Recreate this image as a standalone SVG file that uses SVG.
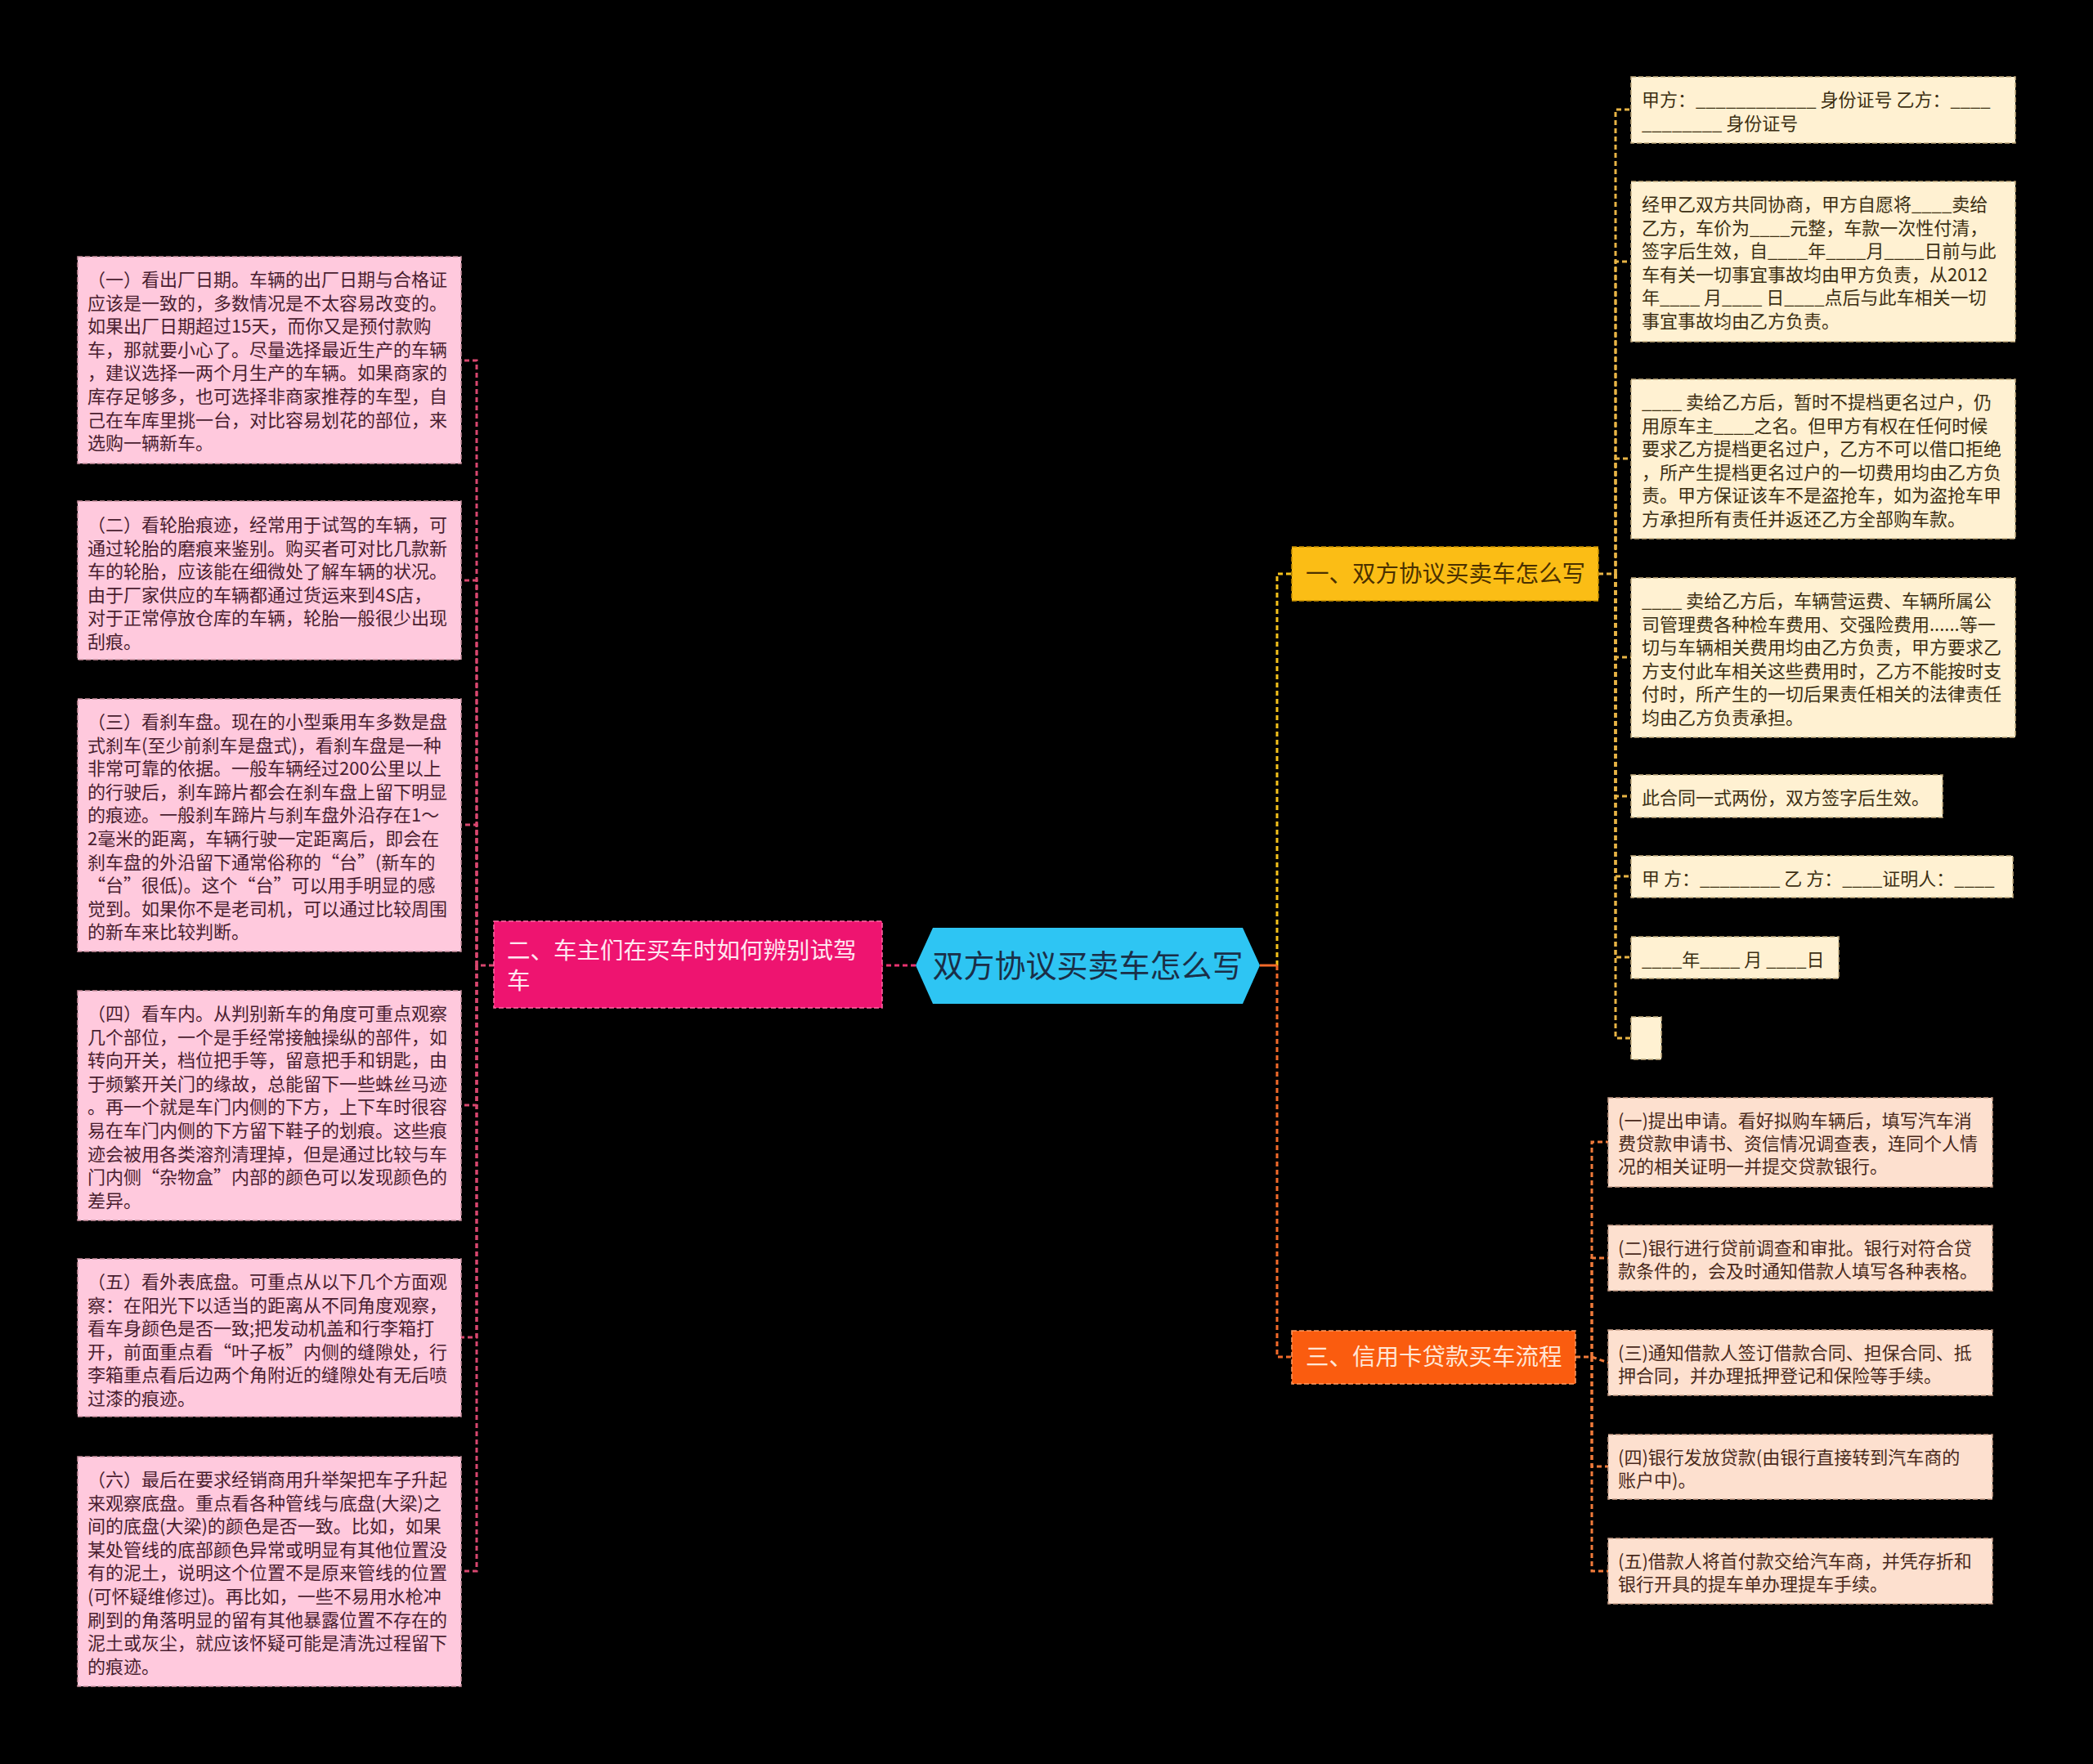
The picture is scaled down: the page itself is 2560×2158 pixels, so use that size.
<svg xmlns="http://www.w3.org/2000/svg" width="2560" height="2158" viewBox="0 0 2560 2158">
<style>
text{font-family:"Noto Sans CJK SC","Noto Sans",sans-serif;}
.t22{font-size:22px;}
.pk{fill:#ffc9dd;stroke:#c9909f;stroke-width:1.5;stroke-dasharray:6 3;}
.pkt{fill:#4a1e30;}
.cr{fill:#fff1d2;stroke:#c4ad80;stroke-width:1.5;stroke-dasharray:6 3;}
.crt{fill:#3c2f12;}
.pc{fill:#fde0cf;stroke:#c9a08a;stroke-width:1.5;stroke-dasharray:6 3;}
.pct{fill:#4a2a1c;}
.ln{fill:none;stroke-width:3;stroke-dasharray:6 4;}
</style>
<rect x="0" y="0" width="2560" height="2158" fill="#000000"/>
<g id="connectors">
  <path class="ln" stroke="#e8336f" d="M1120,1181 L1079,1181"/>
  <path class="ln" stroke="#d8476f" d="M604,1181 L583,1181 L583,441 L564,441"/>
  <path class="ln" stroke="#d8476f" d="M583,1181 L583,710 L564,710"/>
  <path class="ln" stroke="#d8476f" d="M583,1181 L583,1009 L564,1009"/>
  <path class="ln" stroke="#d8476f" d="M583,1181 L583,1352 L564,1352"/>
  <path class="ln" stroke="#d8476f" d="M583,1181 L583,1636 L564,1636"/>
  <path class="ln" stroke="#d8476f" d="M583,1181 L583,1922 L564,1922"/>
  <path class="ln" stroke="#f5c21b" d="M1562,1181 L1562,702 L1580,702"/>
  <path class="ln" stroke="#f26a2a" d="M1562,1181 L1562,1660 L1580,1660"/>
  <path fill="none" stroke="#f26a2a" stroke-width="3" d="M1541,1181 L1562,1181"/>
  <path class="ln" stroke="#e8b445" d="M1955,702 L1976,702 L1976,134 L1995,134"/>
  <path class="ln" stroke="#e8b445" d="M1976,702 L1976,320 L1995,320"/>
  <path class="ln" stroke="#e8b445" d="M1976,702 L1976,561 L1995,561"/>
  <path class="ln" stroke="#e8b445" d="M1976,702 L1976,804 L1995,804"/>
  <path class="ln" stroke="#e8b445" d="M1976,702 L1976,974 L1995,974"/>
  <path class="ln" stroke="#e8b445" d="M1976,702 L1976,1072 L1995,1072"/>
  <path class="ln" stroke="#e8b445" d="M1976,702 L1976,1171 L1995,1171"/>
  <path class="ln" stroke="#e8b445" d="M1976,702 L1976,1270 L1995,1270"/>
  <path class="ln" stroke="#f07a3a" d="M1927,1660 L1947,1660 L1947,1397 L1967,1397"/>
  <path class="ln" stroke="#f07a3a" d="M1947,1660 L1947,1539 L1967,1539"/>
  <path class="ln" stroke="#f07a3a" d="M1947,1660 L1967,1667"/>
  <path class="ln" stroke="#f07a3a" d="M1947,1660 L1947,1794 L1967,1794"/>
  <path class="ln" stroke="#f07a3a" d="M1947,1660 L1947,1922 L1967,1922"/>
</g>
<g id="root">
  <polygon points="1120,1181 1141,1135 1520,1135 1541,1181 1520,1228 1141,1228" fill="#2ec5f3"/>
  <text x="1330.5" y="1195" font-size="38" text-anchor="middle" fill="#1a2f48">双方协议买卖车怎么写</text>
</g>
<g id="branch-2">
  <rect x="604" y="1127" width="475" height="106" fill="#ee1470" stroke="#ff6aa5" stroke-width="1.5" stroke-dasharray="6 3"/>
  <text font-size="28.5" fill="#ffe6f0"><tspan x="620" y="1173">二、车主们在买车时如何辨别试驾</tspan><tspan x="620" y="1210">车</tspan></text>
</g>
<g id="branch-1">
  <rect x="1580" y="669" width="375" height="66" fill="#fbbd15" stroke="#c89000" stroke-width="1.5" stroke-dasharray="6 3"/>
  <text x="1597" y="712" font-size="28.5" fill="#4a3000">一、双方协议买卖车怎么写</text>
</g>
<g id="branch-3">
  <rect x="1580" y="1628" width="347" height="65" fill="#fa5c0f" stroke="#ff9a60" stroke-width="1.5" stroke-dasharray="6 3"/>
  <text x="1597" y="1670" font-size="28.5" fill="#ffe6d6">三、信用卡贷款买车流程</text>
</g>
<g id="left-1">
  <rect class="pk" x="95" y="314" width="469" height="253"/>
  <text class="t22 pkt"><tspan x="107" y="350">（一）看出厂日期。车辆的出厂日期与合格证</tspan><tspan x="107" dy="28.6">应该是一致的，多数情况是不太容易改变的。</tspan><tspan x="107" dy="28.6">如果出厂日期超过15天，而你又是预付款购</tspan><tspan x="107" dy="28.6">车，那就要小心了。尽量选择最近生产的车辆</tspan><tspan x="107" dy="28.6">，建议选择一两个月生产的车辆。如果商家的</tspan><tspan x="107" dy="28.6">库存足够多，也可选择非商家推荐的车型，自</tspan><tspan x="107" dy="28.6">己在车库里挑一台，对比容易划花的部位，来</tspan><tspan x="107" dy="28.6">选购一辆新车。</tspan></text>
</g>
<g id="left-2">
  <rect class="pk" x="95" y="613" width="469" height="194"/>
  <text class="t22 pkt"><tspan x="107" y="650">（二）看轮胎痕迹，经常用于试驾的车辆，可</tspan><tspan x="107" dy="28.6">通过轮胎的磨痕来鉴别。购买者可对比几款新</tspan><tspan x="107" dy="28.6">车的轮胎，应该能在细微处了解车辆的状况。</tspan><tspan x="107" dy="28.6">由于厂家供应的车辆都通过货运来到4S店，</tspan><tspan x="107" dy="28.6">对于正常停放仓库的车辆，轮胎一般很少出现</tspan><tspan x="107" dy="28.6">刮痕。</tspan></text>
</g>
<g id="left-3">
  <rect class="pk" x="95" y="855" width="469" height="309"/>
  <text class="t22 pkt"><tspan x="107" y="891">（三）看刹车盘。现在的小型乘用车多数是盘</tspan><tspan x="107" dy="28.6">式刹车(至少前刹车是盘式)，看刹车盘是一种</tspan><tspan x="107" dy="28.6">非常可靠的依据。一般车辆经过200公里以上</tspan><tspan x="107" dy="28.6">的行驶后，刹车蹄片都会在刹车盘上留下明显</tspan><tspan x="107" dy="28.6">的痕迹。一般刹车蹄片与刹车盘外沿存在1～</tspan><tspan x="107" dy="28.6">2毫米的距离，车辆行驶一定距离后，即会在</tspan><tspan x="107" dy="28.6">刹车盘的外沿留下通常俗称的“台”(新车的</tspan><tspan x="107" dy="28.6">“台”很低)。这个“台”可以用手明显的感</tspan><tspan x="107" dy="28.6">觉到。如果你不是老司机，可以通过比较周围</tspan><tspan x="107" dy="28.6">的新车来比较判断。</tspan></text>
</g>
<g id="left-4">
  <rect class="pk" x="95" y="1212" width="469" height="281"/>
  <text class="t22 pkt"><tspan x="107" y="1248">（四）看车内。从判别新车的角度可重点观察</tspan><tspan x="107" dy="28.6">几个部位，一个是手经常接触操纵的部件，如</tspan><tspan x="107" dy="28.6">转向开关，档位把手等，留意把手和钥匙，由</tspan><tspan x="107" dy="28.6">于频繁开关门的缘故，总能留下一些蛛丝马迹</tspan><tspan x="107" dy="28.6">。再一个就是车门内侧的下方，上下车时很容</tspan><tspan x="107" dy="28.6">易在车门内侧的下方留下鞋子的划痕。这些痕</tspan><tspan x="107" dy="28.6">迹会被用各类溶剂清理掉，但是通过比较与车</tspan><tspan x="107" dy="28.6">门内侧“杂物盒”内部的颜色可以发现颜色的</tspan><tspan x="107" dy="28.6">差异。</tspan></text>
</g>
<g id="left-5">
  <rect class="pk" x="95" y="1540" width="469" height="193"/>
  <text class="t22 pkt"><tspan x="107" y="1576">（五）看外表底盘。可重点从以下几个方面观</tspan><tspan x="107" dy="28.6">察：在阳光下以适当的距离从不同角度观察，</tspan><tspan x="107" dy="28.6">看车身颜色是否一致;把发动机盖和行李箱打</tspan><tspan x="107" dy="28.6">开，前面重点看“叶子板”内侧的缝隙处，行</tspan><tspan x="107" dy="28.6">李箱重点看后边两个角附近的缝隙处有无后喷</tspan><tspan x="107" dy="28.6">过漆的痕迹。</tspan></text>
</g>
<g id="left-6">
  <rect class="pk" x="95" y="1782" width="469" height="281"/>
  <text class="t22 pkt"><tspan x="107" y="1818">（六）最后在要求经销商用升举架把车子升起</tspan><tspan x="107" dy="28.6">来观察底盘。重点看各种管线与底盘(大梁)之</tspan><tspan x="107" dy="28.6">间的底盘(大梁)的颜色是否一致。比如，如果</tspan><tspan x="107" dy="28.6">某处管线的底部颜色异常或明显有其他位置没</tspan><tspan x="107" dy="28.6">有的泥土，说明这个位置不是原来管线的位置</tspan><tspan x="107" dy="28.6">(可怀疑维修过)。再比如，一些不易用水枪冲</tspan><tspan x="107" dy="28.6">刷到的角落明显的留有其他暴露位置不存在的</tspan><tspan x="107" dy="28.6">泥土或灰尘，就应该怀疑可能是清洗过程留下</tspan><tspan x="107" dy="28.6">的痕迹。</tspan></text>
</g>
<g id="right-1">
  <rect class="cr" x="1995" y="94" width="470" height="81"/>
  <text class="t22 crt"><tspan x="2008" y="130">甲方：____________ 身份证号 乙方：____</tspan><tspan x="2008" dy="28.6">________ 身份证号</tspan></text>
</g>
<g id="right-2">
  <rect class="cr" x="1995" y="222" width="470" height="196"/>
  <text class="t22 crt"><tspan x="2008" y="258">经甲乙双方共同协商，甲方自愿将____卖给</tspan><tspan x="2008" dy="28.6">乙方，车价为____元整，车款一次性付清，</tspan><tspan x="2008" dy="28.6">签字后生效，自____年____月____日前与此</tspan><tspan x="2008" dy="28.6">车有关一切事宜事故均由甲方负责，从2012</tspan><tspan x="2008" dy="28.6">年____ 月____ 日____点后与此车相关一切</tspan><tspan x="2008" dy="28.6">事宜事故均由乙方负责。</tspan></text>
</g>
<g id="right-3">
  <rect class="cr" x="1995" y="464" width="470" height="195"/>
  <text class="t22 crt"><tspan x="2008" y="500">____ 卖给乙方后，暂时不提档更名过户，仍</tspan><tspan x="2008" dy="28.6">用原车主____之名。但甲方有权在任何时候</tspan><tspan x="2008" dy="28.6">要求乙方提档更名过户，乙方不可以借口拒绝</tspan><tspan x="2008" dy="28.6">，所产生提档更名过户的一切费用均由乙方负</tspan><tspan x="2008" dy="28.6">责。甲方保证该车不是盗抢车，如为盗抢车甲</tspan><tspan x="2008" dy="28.6">方承担所有责任并返还乙方全部购车款。</tspan></text>
</g>
<g id="right-4">
  <rect class="cr" x="1995" y="707" width="470" height="195"/>
  <text class="t22 crt"><tspan x="2008" y="743">____ 卖给乙方后，车辆营运费、车辆所属公</tspan><tspan x="2008" dy="28.6">司管理费各种检车费用、交强险费用......等一</tspan><tspan x="2008" dy="28.6">切与车辆相关费用均由乙方负责，甲方要求乙</tspan><tspan x="2008" dy="28.6">方支付此车相关这些费用时，乙方不能按时支</tspan><tspan x="2008" dy="28.6">付时，所产生的一切后果责任相关的法律责任</tspan><tspan x="2008" dy="28.6">均由乙方负责承担。</tspan></text>
</g>
<g id="right-5">
  <rect class="cr" x="1995" y="948" width="381" height="52"/>
  <text class="t22 crt" x="2008" y="984">此合同一式两份，双方签字后生效。</text>
</g>
<g id="right-6">
  <rect class="cr" x="1995" y="1047" width="467" height="51"/>
  <text class="t22 crt" x="2008" y="1083">甲 方：________ 乙 方：____证明人：____</text>
</g>
<g id="right-7">
  <rect class="cr" x="1995" y="1146" width="254" height="51"/>
  <text class="t22 crt" x="2008" y="1182">____年____ 月 ____日</text>
</g>
<g id="right-8">
  <rect class="cr" x="1995" y="1244" width="37" height="52"/>
</g>
<g id="loan-1">
  <rect class="pc" x="1967" y="1343" width="470" height="109"/>
  <text class="t22 pct"><tspan x="1979" y="1379">(一)提出申请。看好拟购车辆后，填写汽车消</tspan><tspan x="1979" dy="28">费贷款申请书、资信情况调查表，连同个人情</tspan><tspan x="1979" dy="28">况的相关证明一并提交贷款银行。</tspan></text>
</g>
<g id="loan-2">
  <rect class="pc" x="1967" y="1499" width="470" height="80"/>
  <text class="t22 pct"><tspan x="1979" y="1535">(二)银行进行贷前调查和审批。银行对符合贷</tspan><tspan x="1979" dy="28">款条件的，会及时通知借款人填写各种表格。</tspan></text>
</g>
<g id="loan-3">
  <rect class="pc" x="1967" y="1627" width="470" height="80"/>
  <text class="t22 pct"><tspan x="1979" y="1663">(三)通知借款人签订借款合同、担保合同、抵</tspan><tspan x="1979" dy="28">押合同，并办理抵押登记和保险等手续。</tspan></text>
</g>
<g id="loan-4">
  <rect class="pc" x="1967" y="1755" width="470" height="79"/>
  <text class="t22 pct"><tspan x="1979" y="1791">(四)银行发放贷款(由银行直接转到汽车商的</tspan><tspan x="1979" dy="28">账户中)。</tspan></text>
</g>
<g id="loan-5">
  <rect class="pc" x="1967" y="1882" width="470" height="80"/>
  <text class="t22 pct"><tspan x="1979" y="1918">(五)借款人将首付款交给汽车商，并凭存折和</tspan><tspan x="1979" dy="28">银行开具的提车单办理提车手续。</tspan></text>
</g>
</svg>
